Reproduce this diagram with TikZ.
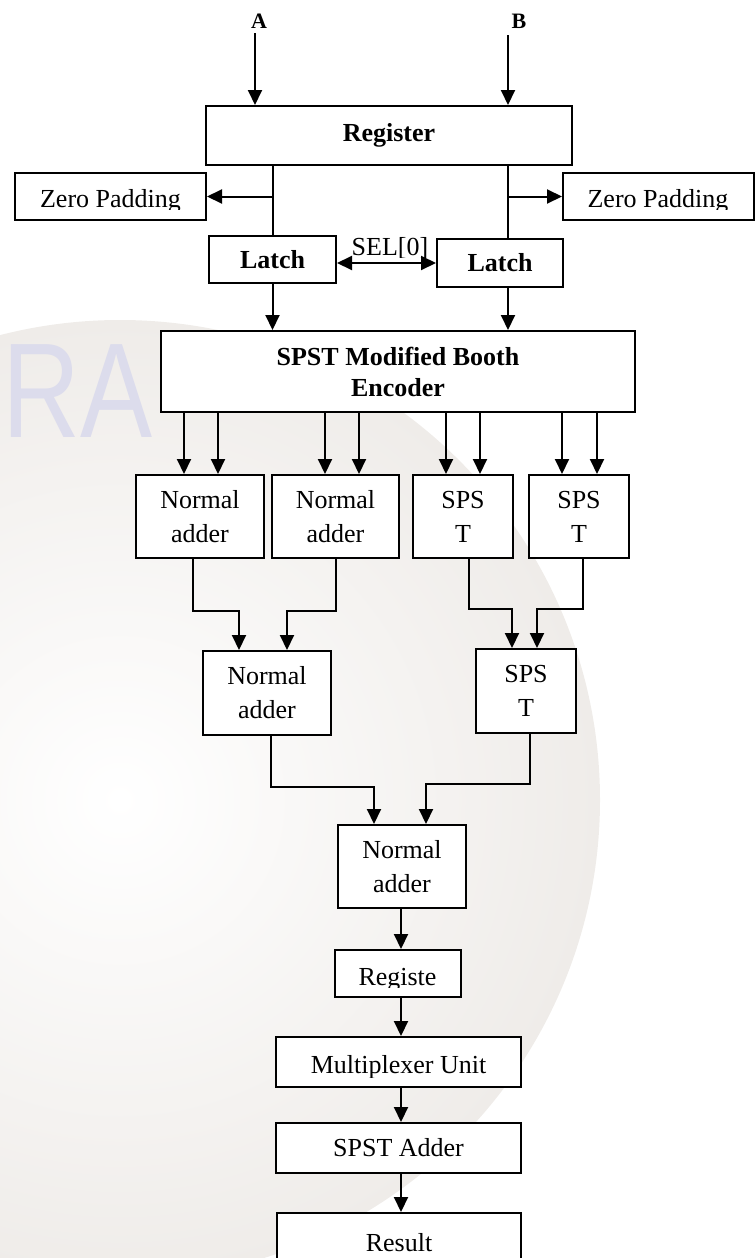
\documentclass[tikz,border=0pt]{standalone}
\usepackage{fontspec}
\setmainfont{Liberation Serif}
\newfontfamily\wmfont{Liberation Sans}
\usetikzlibrary{arrows.meta}
\definecolor{wmgrey}{RGB}{239,236,233}
\definecolor{wmlav}{RGB}{220,220,236}
\begin{document}
\begin{tikzpicture}[x=1pt,y=-1pt,
  txt/.style={font=\fontsize{26}{34}\selectfont},
  btxt/.style={font=\fontsize{26}{34}\selectfont\bfseries},
  blk/.style={draw, line width=2pt, fill=white, inner sep=0pt, align=center, txt},
  lbl/.style={inner sep=0pt, txt},
  wire/.style={line width=2pt},
  arr/.style={wire, -{Triangle[length=15pt,width=14pt]}},
  darr/.style={wire, {Triangle[length=15pt,width=14pt]}-{Triangle[length=15pt,width=14pt]}},
]
\useasboundingbox (0,0) rectangle (755,1258);

% faint background emblem
\begin{scope}
  \clip (0,0) rectangle (755,1258);
  \shade[inner color=white, outer color=wmgrey] (120,800) circle (480);
  \node[anchor=base west, inner sep=0pt, text=wmlav, xscale=0.8,
        font=\wmfont\fontsize{135}{135}\selectfont] (wm) at (2,437) {RA};
\end{scope}

% inputs
\node[inner sep=0pt, font=\fontsize{22}{26}\selectfont\bfseries] (A) at (259,21) {A};
\node[inner sep=0pt, font=\fontsize{22}{26}\selectfont\bfseries] (B) at (519,21) {B};

% blocks
\node[blk, btxt, minimum width=366pt, minimum height=59pt] (reg) at (389,135.5) {Register};
\node[blk, minimum width=191pt, minimum height=47pt] (zpl) at (110.5,196.5) {};
\node[blk, minimum width=191pt, minimum height=47pt] (zpr) at (658.5,196.5) {};
\node[blk, btxt, minimum width=127pt, minimum height=47pt] (latchL) at (272.5,259.5) {Latch};
\node[blk, btxt, minimum width=126pt, minimum height=48pt] (latchR) at (500,263) {Latch};
\node[blk, font=\fontsize{26}{31}\selectfont\bfseries, minimum width=474pt, minimum height=81pt]
  (enc) at (398,371.5) {SPST Modified Booth\\Encoder};

\node[blk, minimum width=128pt, minimum height=83pt] (na1) at (200,516.5) {Normal\\adder};
\node[blk, minimum width=127pt, minimum height=83pt] (na2) at (335.5,516.5) {Normal\\adder};
\node[blk, minimum width=100pt, minimum height=83pt] (sp1) at (463,516.5) {SPS\\T};
\node[blk, minimum width=100pt, minimum height=83pt] (sp2) at (579,516.5) {SPS\\T};

\node[blk, minimum width=128pt, minimum height=84pt] (na3) at (267,693) {Normal\\adder};
\node[blk, minimum width=100pt, minimum height=84pt] (sp3) at (526,691) {SPS\\T};

\node[blk, minimum width=128pt, minimum height=83pt] (na4) at (402,866.5) {Normal\\adder};
\node[blk, minimum width=126pt, minimum height=47pt] (reg2) at (398,973.5) {};
\node[blk, minimum width=245pt, minimum height=50pt] (mux) at (398.5,1062) {};
\node[blk, minimum width=245pt, minimum height=50pt] (add) at (398.5,1148) {SPST Adder};
\node[blk, minimum width=244pt, minimum height=60pt] (res) at (399,1243) {Result};

% labels whose lower edge is cut off by their text frame
\begin{scope}
  \clip (0,0) rectangle (755,209.5);
  \node[lbl, anchor=base] (zplt) at (zpl.center |- 0,207) {Zero Padding};
  \node[lbl, anchor=base] (zprt) at (658,207) {Zero Padding};
\end{scope}
\begin{scope}
  \clip (0,0) rectangle (755,257);
  \node[lbl, anchor=base] (selt) at (390,255) {SEL[0]};
\end{scope}
\begin{scope}
  \clip (0,960) rectangle (755,987.5);
  \node[lbl, anchor=base] (reg2t) at (397.5,985) {Registe};
\end{scope}
\begin{scope}
  \clip (0,1040) rectangle (755,1077);
  \node[lbl, anchor=base] (muxt) at (398.5,1073) {Multiplexer Unit};
\end{scope}

% input arrows
\coordinate (ain) at (255,33);
\coordinate (bin) at (508,35);
\draw[arr] (ain) -- (ain |- reg.north);
\draw[arr] (bin) -- (bin |- reg.north);

% register to latches and zero padding
\coordinate (bcol) at (508,0);
\draw[wire] (reg.south -| latchL.north) -- (latchL.north);
\draw[arr] (latchL.north |- zpl.east) -- (zpl.east);
\draw[wire] (reg.south -| bcol) -- (latchR.north -| bcol);
\draw[arr] (bcol |- zpr.west) -- (zpr.west);
\coordinate (sel) at (0,263);
\draw[darr] (latchL.east |- sel) -- (latchR.west |- sel);

% latches to encoder
\draw[arr] (latchL.south) -- (latchL.south |- enc.north);
\draw[arr] (latchR.south -| bcol) -- (enc.north -| bcol);

% encoder to first adder row
\foreach \b/\dx in {na1/-16, na1/18, na2/-10.5, na2/23.5, sp1/-17, sp1/17, sp2/-17, sp2/18}{
  \coordinate (t) at ([xshift=\dx pt]\b.north);
  \draw[arr] (t |- enc.south) -- (t);
}

% first row to second row
\draw[arr] ([xshift=-7pt]na1.south) -- ++(0,52) -| ([xshift=-28pt]na3.north);
\draw[arr] ([xshift=0.5pt]na2.south) -- ++(0,52) -| ([xshift=20pt]na3.north);
\draw[arr] ([xshift=6pt]sp1.south) -- ++(0,50) -| ([xshift=-14pt]sp3.north);
\draw[arr] ([xshift=4pt]sp2.south) -- ++(0,50) -| ([xshift=11pt]sp3.north);

% second row to final adder
\draw[arr] ([xshift=4pt]na3.south) -- ++(0,51) -| ([xshift=-28pt]na4.north);
\draw[arr] ([xshift=4pt]sp3.south) -- ++(0,50) -| ([xshift=24pt]na4.north);

% output chain
\coordinate (col) at (401,0);
\draw[arr] (na4.south -| col) -- (reg2.north -| col);
\draw[arr] (reg2.south -| col) -- (mux.north -| col);
\draw[arr] (mux.south -| col) -- (add.north -| col);
\draw[arr] (add.south -| col) -- (res.north -| col);
\end{tikzpicture}
\end{document}
